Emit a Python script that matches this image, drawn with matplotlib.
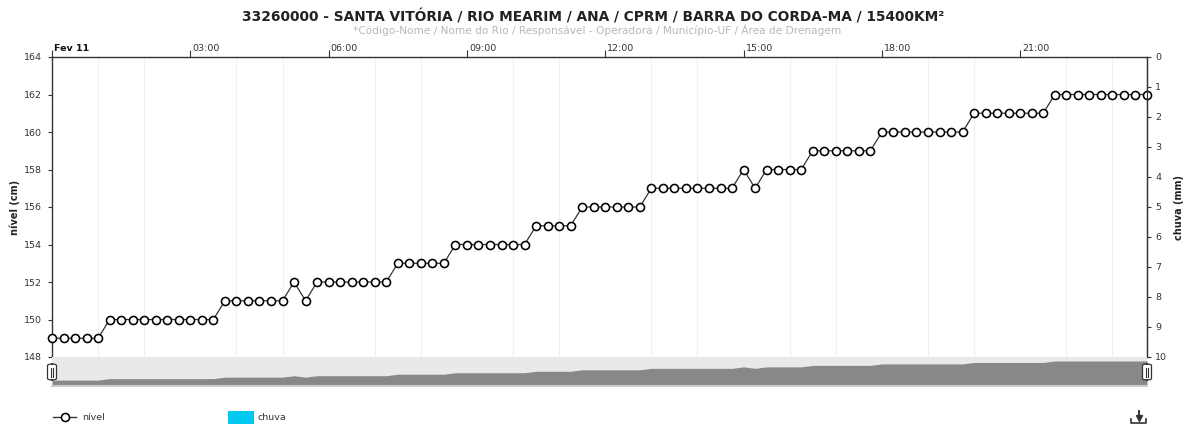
import matplotlib
matplotlib.use('Agg')
import matplotlib.pyplot as plt
import matplotlib.transforms as mtransforms
from matplotlib.patches import Rectangle, FancyBboxPatch
from matplotlib.lines import Line2D
import numpy as np

plt.rcParams['font.family'] = 'DejaVu Sans'

# ---------------------------------------------------------------------------
# Data
# ---------------------------------------------------------------------------
hours = np.arange(0, 24, 0.25)          # readings every 15 min, Fev 11
nivel = [149, 149, 149, 149, 149,
         150, 150, 150, 150, 150, 150, 150, 150, 150, 150,
         151, 151, 151, 151, 151, 151,
         152, 151,
         152, 152, 152, 152, 152, 152, 152,
         153, 153, 153, 153, 153,
         154, 154, 154, 154, 154, 154, 154,
         155, 155, 155, 155,
         156, 156, 156, 156, 156, 156,
         157, 157, 157, 157, 157, 157, 157, 157,
         158, 157,
         158, 158, 158, 158,
         159, 159, 159, 159, 159, 159,
         160, 160, 160, 160, 160, 160, 160, 160,
         161, 161, 161, 161, 161, 161, 161,
         162, 162, 162, 162, 162, 162, 162, 162, 162]
chuva = []                               # no rain recorded

x_ticks = [0, 3, 6, 9, 12, 15, 18, 21]
x_labels = ['Fev 11', '03:00', '06:00', '09:00', '12:00', '15:00', '18:00', '21:00']
y_left = list(range(148, 165, 2))
y_right = list(range(0, 11))

TITLE = '33260000 - SANTA VITÓRIA / RIO MEARIM / ANA / CPRM / BARRA DO CORDA-MA / 15400KM²'
SUBTITLE = '*Código-Nome / Nome do Rio / Responsável - Operadora / Município-UF / Área de Drenagem'

# ---------------------------------------------------------------------------
# Layout (pixel based)
# ---------------------------------------------------------------------------
W, H = 1192, 428
TEXT = '#333333'
AXIS = '#333333'

fig = plt.figure(figsize=(W / 100, H / 100), dpi=100, facecolor='white')

def box(x0, y0, x1, y1):
    return [x0 / W, 1 - y1 / H, (x1 - x0) / W, (y1 - y0) / H]

ax = fig.add_axes(box(52, 57, 1147, 357))
ax.plot(hours, nivel, color='#333333', lw=0.9, marker='o', ms=5.8,
        mfc='white', mec='black', mew=1.15, clip_on=False, zorder=3)
ax.set_xlim(0, 23.75)
ax.set_ylim(148, 164)

ax.spines['bottom'].set_visible(False)
for s in ['left', 'top', 'right']:
    ax.spines[s].set_color(AXIS)
    ax.spines[s].set_linewidth(1.0)

# x axis on top
ax.xaxis.tick_top()
ax.set_xticks(x_ticks)
ax.set_xticklabels(x_labels)
ax.set_xticks([h for h in range(24) if h % 3 != 0], minor=True)
ax.tick_params(axis='x', which='major', direction='out', length=5, width=0.8,
               color=AXIS, labelsize=6.8, labelcolor=TEXT, pad=-2)
ax.tick_params(axis='x', which='minor', length=0)
ax.grid(axis='x', which='minor', color='#f0f0f0', lw=0.8)
offset = mtransforms.ScaledTranslation(2 / 100, 0, fig.dpi_scale_trans)
for i, lab in enumerate(ax.get_xticklabels()):
    lab.set_horizontalalignment('left')
    lab.set_transform(lab.get_transform() + offset)
    if i == 0:
        lab.set_fontweight('bold')
        lab.set_color('#111111')

ax.set_yticks(y_left)
ax.tick_params(axis='y', direction='out', length=3, width=0.8, color=AXIS,
               labelsize=6.8, labelcolor=TEXT, pad=4)

ax2 = ax.twinx()
ax2.bar(hours[:len(chuva)], chuva, width=0.2, color='#00c8f0')
ax2.set_ylim(10, 0)
ax2.set_yticks(y_right)
ax2.tick_params(axis='y', direction='out', length=3, width=0.8, color=AXIS,
                labelsize=6.8, labelcolor=TEXT, pad=3)
for s in ['bottom', 'top', 'left']:
    ax2.spines[s].set_visible(False)
ax2.spines['right'].set_color(AXIS)

fig.text(15 / W, 1 - 207 / H, 'nível (cm)', rotation=90, ha='center', va='center',
         fontsize=7, fontweight='bold', color='#222222')
fig.text(1179 / W, 1 - 207 / H, 'chuva (mm)', rotation=90, ha='center', va='center',
         fontsize=7, fontweight='bold', color='#222222')

# titles
fig.text(593 / W, 1 - 17 / H, TITLE, ha='center', va='center', fontsize=9.9,
         fontweight='bold', color='#222222')
fig.text(597 / W, 1 - 30 / H, SUBTITLE, ha='center', va='center', fontsize=7.6,
         color='#b8b8b8')

# ---------------------------------------------------------------------------
# Navigator
# ---------------------------------------------------------------------------
nav = fig.add_axes(box(52, 357, 1147, 386))
nav.set_facecolor('#e9e9e9')
nav.fill_between(hours, 145, nivel, color='#888888', lw=0)
nav.set_xlim(0, 23.75)
nav.set_ylim(145, 164.7)
nav.set_xticks([])
nav.set_yticks([])
for s in ['top', 'left', 'right']:
    nav.spines[s].set_visible(False)
nav.spines['bottom'].set_color('#cccccc')
nav.spines['bottom'].set_linewidth(1.5)

for hx in (52, 1147):
    fig.add_artist(FancyBboxPatch(((hx - 4.5) / W, 1 - 380 / H), 9 / W, 16 / H,
                                  boxstyle='round,pad=0,rounding_size=0.004',
                                  transform=fig.transFigure, facecolor='white',
                                  edgecolor='#333333', lw=0.9, zorder=5))
    for dx in (-1.3, 1.3):
        fig.add_artist(Line2D([(hx + dx) / W] * 2, [1 - 368 / H, 1 - 377 / H],
                              color='#333333', lw=0.8, zorder=6))

# ---------------------------------------------------------------------------
# Legend
# ---------------------------------------------------------------------------
ly = 1 - 417 / H
fig.add_artist(Line2D([53 / W, 76 / W], [ly, ly], color='#333333', lw=1.0))
fig.add_artist(Line2D([64.5 / W], [ly], marker='o', ms=5.8, mfc='white',
                      mec='black', mew=1.15))
fig.text(82 / W, ly, 'nível', ha='left', va='center', fontsize=6.8, color=TEXT)
fig.add_artist(Rectangle((228 / W, 1 - 424 / H), 26 / W, 13 / H,
                         transform=fig.transFigure, facecolor='#00c8f0',
                         edgecolor='none'))
fig.text(258 / W, ly, 'chuva', ha='left', va='center', fontsize=6.8, color=TEXT)

# download icon
ic = '#333333'
fig.add_artist(Line2D([1131 / W, 1131 / W, 1146 / W, 1146 / W],
                      [1 - 419 / H, 1 - 423 / H, 1 - 423 / H, 1 - 419 / H],
                      color=ic, lw=1.2))
fig.add_artist(Line2D([1138.5 / W] * 2, [1 - 411 / H, 1 - 418 / H], color=ic, lw=1.4))
fig.add_artist(Line2D([1138.5 / W], [1 - 418 / H], marker='v', ms=5, color=ic, lw=0))

fig.savefig('out.png', dpi=100, facecolor='white')
